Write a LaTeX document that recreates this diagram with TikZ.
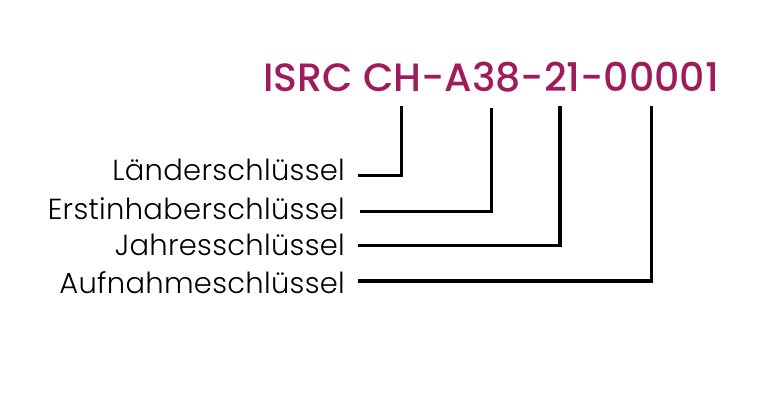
\documentclass[tikz,border=0pt]{standalone}
\usepackage{fontspec}
\newfontfamily\titlefont[UprightFont={* Medium}]{Poppins}
\newfontfamily\labelfont[UprightFont={* Light},LetterSpace=1]{Poppins}
\definecolor{isrc}{RGB}{159,27,91}
\tikzset{
  lab/.style={anchor=base east, inner sep=0pt, font=\labelfont\fontsize{29}{29}\selectfont, text=black},
  conn/.style={line width=3.3pt, black, line cap=rect, line join=miter},
}
\begin{document}
\begin{tikzpicture}[x=1pt,y=-1pt]
\useasboundingbox (0,0) rectangle (780,409);
\node[anchor=base west, inner sep=0pt, text=isrc, font=\titlefont\fontsize{39.5}{39.5}\selectfont] (title) at (263,91.7) {ISRC CH-A38-21-00001};
\node[lab] (l1) at (345,180.7) {Länderschlüssel};
\node[lab] (l2) at (345,219) {Erstinhaberschlüssel};
\node[lab] (l3) at (345,255) {Jahresschlüssel};
\node[lab] (l4) at (345,294) {Aufnahmeschlüssel};
\coordinate (t1) at (401.7,108);
\coordinate (t2) at (491.7,109.5);
\coordinate (t3) at (560,108);
\coordinate (t4) at (651.7,108);
\coordinate (s1) at (359.5,175.5);
\coordinate (s2) at (362,211.5);
\coordinate (s3) at (359.5,245.5);
\coordinate (s4) at (359.5,281);
\draw[conn] (s1) -| (t1);
\draw[conn] (s2) -| (t2);
\draw[conn] (s3) -| (t3);
\draw[conn] (s4) -| (t4);
\end{tikzpicture}
\end{document}
